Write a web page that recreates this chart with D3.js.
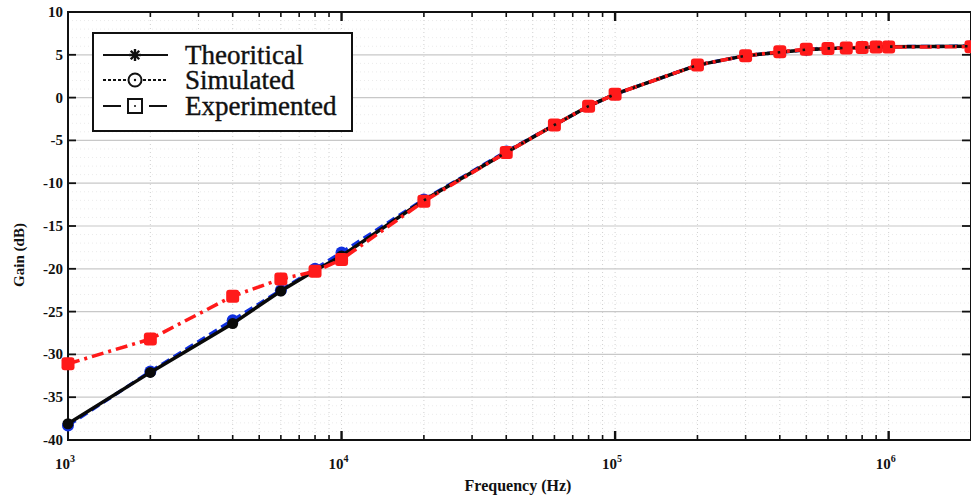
<!DOCTYPE html>
<html>
<head>
<meta charset="utf-8">
<script src="https://cdn.jsdelivr.net/npm/d3@7"></script>
<style>
  html, body { margin: 0; padding: 0; background: #fff; }
  svg { display: block; }
  text { font-family: "Liberation Serif", "Times New Roman", serif; fill: #111; }
</style>
</head>
<body>
<svg id="chart" width="971" height="499"></svg>
<script>
// Frequency points (Hz)
const freqs = [1e3, 2e3, 4e3, 6e3, 8e3, 1e4, 2e4, 4e4, 6e4, 8e4, 1e5, 2e5, 3e5, 4e5, 5e5, 6e5, 7e5, 8e5, 9e5, 1e6, 2e6];

// Gain values (dB) for each series
const theoretical = [-38.1, -32.1, -26.4, -22.6, -20.2, -18.5, -12.0, -6.4, -3.2, -1.0, 0.4, 3.8, 4.9, 5.3, 5.6, 5.75, 5.8, 5.85, 5.9, 5.95, 6.0];
const simulated   = [-38.3, -32.0, -26.0, -22.5, -20.0, -18.1, -11.9, -6.3, -3.2, -1.0, 0.4, 3.8, 4.9, 5.3, 5.6, 5.75, 5.8, 5.85, 5.9, 5.95, 6.0];
const experimented = [-31.1, -28.2, -23.2, -21.2, -20.3, -18.9, -12.1, -6.4, -3.2, -1.0, 0.4, 3.8, 4.9, 5.35, 5.65, 5.75, 5.8, 5.85, 5.9, 5.9, 5.95];

// Axis ticks
const xMajorTicks = [1e3, 1e4, 1e5, 1e6];
const xTickExponents = ["3", "4", "5", "6"];
const yTicks = [10, 5, 0, -5, -10, -15, -20, -25, -30, -35, -40];

const legendLabels = ["Theoritical", "Simulated", "Experimented"];

const svg = d3.select("#chart");
const pLeft = 68, pRight = 971, pTop = 12, pBottom = 440;

const x = d3.scaleLog().domain([1e3, 2e6]).range([pLeft, pRight]);
const y = d3.scaleLinear().domain([-40, 10]).range([pBottom, pTop]);

// minor decade ticks
const xMinor = [];
for (let d = 1e3; d < 2e6; d *= 10) {
  for (let k = 2; k <= 9; k++) {
    const v = d * k;
    if (v <= 2e6) xMinor.push(v);
  }
}
const yMinor = d3.range(-40, 10.01, 1).filter(v => v % 5 !== 0);

const grid = svg.append("g");
// faint dotted minor horizontal grid
grid.selectAll("line.hmin").data(yMinor).join("line")
  .attr("x1", pLeft).attr("x2", pRight)
  .attr("y1", d => y(d)).attr("y2", d => y(d))
  .attr("stroke", "#ebebeb").attr("stroke-width", 1).attr("stroke-dasharray", "1,3");
// dotted vertical grid
grid.selectAll("line.vmin").data(xMinor.concat(xMajorTicks.slice(1))).join("line")
  .attr("x1", d => x(d)).attr("x2", d => x(d))
  .attr("y1", pTop).attr("y2", pBottom)
  .attr("stroke", "#d0d0d0").attr("stroke-width", 1).attr("stroke-dasharray", "1,3");
// solid horizontal major grid
grid.selectAll("line.hmaj").data(yTicks.slice(1, -1)).join("line")
  .attr("x1", pLeft).attr("x2", pRight)
  .attr("y1", d => y(d)).attr("y2", d => y(d))
  .attr("stroke", "#c8c8c8").attr("stroke-width", 1.2);

// frame
svg.append("rect")
  .attr("x", pLeft).attr("y", pTop).attr("width", pRight - pLeft).attr("height", pBottom - pTop)
  .attr("fill", "none").attr("stroke", "#111").attr("stroke-width", 2);

// inward ticks on all four sides
const tg = svg.append("g").attr("stroke", "#111");
[pBottom, pTop].forEach(edge => {
  const dir = edge === pBottom ? -1 : 1;
  tg.selectAll(null).data(xMinor).join("line")
    .attr("x1", d => x(d)).attr("x2", d => x(d))
    .attr("y1", edge).attr("y2", edge + dir * 5).attr("stroke-width", 1.6);
  tg.selectAll(null).data(xMajorTicks.slice(1)).join("line")
    .attr("x1", d => x(d)).attr("x2", d => x(d))
    .attr("y1", edge).attr("y2", edge + dir * 9).attr("stroke-width", 2.4);
});
[pLeft, pRight - 1].forEach(edge => {
  const dir = edge === pLeft ? 1 : -1;
  tg.selectAll(null).data(yTicks).join("line")
    .attr("x1", edge).attr("x2", edge + dir * 8)
    .attr("y1", d => y(d)).attr("y2", d => y(d)).attr("stroke-width", 1.8);
});

// y tick labels
svg.append("g").selectAll("text").data(yTicks).join("text")
  .attr("x", pLeft - 5).attr("y", d => y(d) + 5)
  .attr("text-anchor", "end").attr("font-size", 15).attr("font-weight", "bold")
  .text(d => d);

// x tick labels: 10^n
const xl = svg.append("g").selectAll("text").data(xMajorTicks).join("text")
  .attr("x", d => x(d) - 3).attr("y", 469)
  .attr("text-anchor", "middle").attr("font-size", 15).attr("font-weight", "bold");
xl.append("tspan").text("10");
xl.append("tspan").attr("dy", -7).attr("font-size", 10).text((d, i) => xTickExponents[i]);

// axis titles
svg.append("text").attr("x", 518).attr("y", 491).attr("text-anchor", "middle")
  .attr("font-size", 16).attr("font-weight", "bold").text("Frequency (Hz)");
svg.append("text").attr("transform", "translate(24,255) rotate(-90)").attr("text-anchor", "middle")
  .attr("font-size", 15).attr("font-weight", "bold").text("Gain (dB)");

// clip plotting area
svg.append("clipPath").attr("id", "plotclip").append("rect")
  .attr("x", pLeft - 8).attr("y", pTop - 8).attr("width", pRight - pLeft + 16).attr("height", pBottom - pTop + 16);

const plot = svg.append("g").attr("clip-path", "url(#plotclip)");
const line = d3.line().x(d => x(d[0])).y(d => y(d[1]));
const pts = vals => freqs.map((f, i) => [f, vals[i]]);

// Simulated: blue dashed with circles
plot.append("path").datum(pts(simulated)).attr("d", line)
  .attr("fill", "none").attr("stroke", "#1030e0").attr("stroke-width", 3.4).attr("stroke-dasharray", "9,5");
plot.selectAll("circle.sim").data(pts(simulated)).join("circle")
  .attr("cx", d => x(d[0])).attr("cy", d => y(d[1])).attr("r", 6).attr("fill", "#1030e0");

// Theoretical: black solid
plot.append("path").datum(pts(theoretical)).attr("d", line)
  .attr("fill", "none").attr("stroke", "#0a0a0a").attr("stroke-width", 3.5);
plot.selectAll("circle.th").data(pts(theoretical)).join("circle")
  .attr("cx", d => x(d[0])).attr("cy", d => y(d[1])).attr("r", 5.5).attr("fill", "#0a0a0a");

// Experimented: red dash-dot with squares
plot.append("path").datum(pts(experimented)).attr("d", line)
  .attr("fill", "none").attr("stroke", "#ff1a1a").attr("stroke-width", 3.6).attr("stroke-dasharray", "12,5,3,5");
plot.selectAll("rect.exp").data(pts(experimented)).join("rect")
  .attr("x", d => x(d[0]) - 6.5).attr("y", d => y(d[1]) - 6.5)
  .attr("width", 13).attr("height", 13).attr("rx", 3).attr("fill", "#ff1a1a");
// black dotted theory showing through on top of the flat region
plot.append("path").datum(pts(theoretical).filter(d => d[0] >= 2e4)).attr("d", line)
  .attr("fill", "none").attr("stroke", "#111").attr("stroke-width", 2.6).attr("stroke-dasharray", "2.5,10");

// legend
const lg = svg.append("g");
lg.append("rect").attr("x", 93).attr("y", 33).attr("width", 259).attr("height", 98)
  .attr("fill", "#fff").attr("stroke", "#111").attr("stroke-width", 2);
const rowsY = [55, 80, 106];
const lx1 = 103, lx2 = 168, lcx = 135;
// Theoritical: solid line + asterisk
lg.append("line").attr("x1", lx1).attr("x2", lx2).attr("y1", rowsY[0]).attr("y2", rowsY[0])
  .attr("stroke", "#111").attr("stroke-width", 2.2);
[0, 45, 90, 135].forEach(a => {
  lg.append("line").attr("x1", lcx - 6).attr("x2", lcx + 6).attr("y1", rowsY[0]).attr("y2", rowsY[0])
    .attr("stroke", "#111").attr("stroke-width", 2.4)
    .attr("transform", `rotate(${a},${lcx},${rowsY[0]})`);
});
// Simulated: dotted line + circle
lg.append("line").attr("x1", lx1).attr("x2", lx2).attr("y1", rowsY[1]).attr("y2", rowsY[1])
  .attr("stroke", "#111").attr("stroke-width", 1.8).attr("stroke-dasharray", "3,2");
lg.append("circle").attr("cx", lcx).attr("cy", rowsY[1]).attr("r", 6.5)
  .attr("fill", "#fff").attr("stroke", "#111").attr("stroke-width", 2);
lg.append("circle").attr("cx", lcx).attr("cy", rowsY[1]).attr("r", 1.2).attr("fill", "#111");
// Experimented: dashed line + square
lg.append("line").attr("x1", lx1).attr("x2", lx2).attr("y1", rowsY[2]).attr("y2", rowsY[2])
  .attr("stroke", "#111").attr("stroke-width", 2.2).attr("stroke-dasharray", "18,28");
lg.append("rect").attr("x", lcx - 7).attr("y", rowsY[2] - 7).attr("width", 14).attr("height", 14)
  .attr("fill", "#fff").attr("stroke", "#111").attr("stroke-width", 2);
lg.append("circle").attr("cx", lcx).attr("cy", rowsY[2]).attr("r", 1).attr("fill", "#111");

lg.selectAll("text.lab").data(legendLabels).join("text")
  .attr("x", 185).attr("y", (d, i) => rowsY[i] + 9)
  .attr("font-size", 27).attr("stroke", "#111").attr("stroke-width", 0.4)
  .text(d => d);
</script>
</body>
</html>
